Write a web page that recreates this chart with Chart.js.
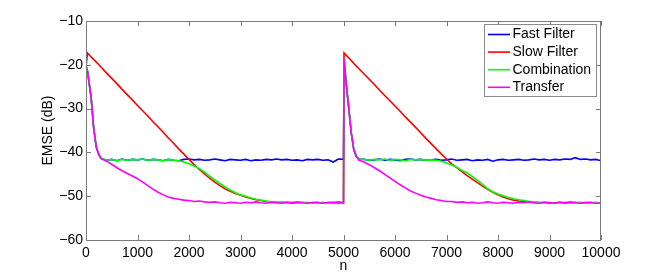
<!DOCTYPE html>
<html>
<head>
<meta charset="utf-8">
<script src="https://cdn.jsdelivr.net/npm/chart.js@4.4.1/dist/chart.umd.min.js"></script>
<style>
  html, body { margin: 0; padding: 0; background: #fff; }
  #wrap { width: 664px; height: 274px; }
</style>
</head>
<body>
<div id="wrap"><canvas id="emseChart"></canvas></div>
<script>
// sample index n
const n = [
  0, 30, 100, 150, 200, 250, 300,
  400, 500, 600, 700, 800, 900, 1000, 1100, 1200, 1300,
  1400, 1500, 1600, 1700, 1800, 1900, 2000, 2100, 2200, 2300,
  2400, 2500, 2600, 2700, 2800, 2900, 3000, 3100, 3200, 3300,
  3400, 3500, 3600, 3700, 3800, 3900, 4000, 4100, 4200, 4300,
  4400, 4500, 4600, 4700, 4800, 4900, 5000,
  5010, 5050, 5100, 5150, 5200, 5250, 5300,
  5400, 5500, 5600, 5700, 5800, 5900, 6000, 6100, 6200, 6300,
  6400, 6500, 6600, 6700, 6800, 6900, 7000, 7100, 7200, 7300,
  7400, 7500, 7600, 7700, 7800, 7900, 8000, 8100, 8200, 8300,
  8400, 8500, 8600, 8700, 8800, 8900, 9000, 9100, 9200, 9300,
  9400, 9500, 9600, 9700, 9800, 9900, 10000
];

// EMSE (dB)
const fastFilter = [
  -20.3, -21.5, -27.5, -34.5, -38.8, -40.5, -41.4,
  -41.8, -41.6, -41.9, -41.5, -41.8, -41.6, -41.7, -41.5, -41.8, -41.6,
  -41.7, -41.9, -41.6, -41.8, -41.9, -41.6, -41.5, -41.7, -41.6, -41.8,
  -41.7, -41.5, -41.7, -41.9, -41.6, -41.7, -41.8, -41.6, -41.9, -41.7,
  -41.8, -41.6, -41.7, -41.5, -41.7, -41.6, -41.8, -41.7, -41.9, -41.6,
  -41.7, -41.6, -41.8, -41.7, -42.2, -41.5, -41.6,
  -18.6, -24.0, -29.6, -35.5, -39.4, -41.0, -41.5,
  -41.6, -41.8, -41.7, -41.5, -41.8, -41.6, -41.7, -41.9, -41.6, -41.5,
  -41.7, -41.6, -41.8, -41.7, -41.6, -41.8, -41.7, -41.5, -41.8, -41.7,
  -41.6, -41.9, -41.7, -41.8, -41.6, -42.0, -41.7, -41.6, -41.8, -41.7,
  -41.6, -41.8, -41.7, -41.5, -41.7, -41.6, -41.8, -41.6, -41.7, -41.5,
  -41.6, -41.2, -41.6, -41.5, -41.7, -41.6, -41.9
];

const slowFilter = [
  -20.5, -17.3, -18.2, -18.8, -19.4, -20.0, -20.6,
  -21.9, -23.1, -24.3, -25.6, -26.8, -28.0, -29.3, -30.5, -31.7, -33.0,
  -34.2, -35.4, -36.7, -37.9, -39.2, -40.4, -41.6, -42.8, -43.9, -44.9,
  -45.9, -46.8, -47.6, -48.3, -48.9, -49.4, -49.8, -50.2, -50.5, -50.8,
  -51.0, -51.2, -51.3, -51.4, -51.5, -51.4, -51.6, -51.5, -51.4, -51.6,
  -51.5, -51.4, -51.6, -51.5, -51.4, -51.6, -51.5,
  -17.3, -17.8, -18.4, -19.0, -19.7, -20.3, -20.9,
  -22.1, -23.3, -24.5, -25.8, -27.0, -28.2, -29.4, -30.6, -31.9, -33.1,
  -34.3, -35.5, -36.8, -38.0, -39.2, -40.4, -41.5, -42.6, -43.5, -44.4,
  -45.3, -46.1, -46.9, -47.7, -48.4, -49.1, -49.7, -50.2, -50.6, -50.9,
  -51.1, -51.2, -51.3, -51.4, -51.5, -51.4, -51.6, -51.5, -51.4, -51.6,
  -51.5, -51.4, -51.6, -51.5, -51.4, -51.6, -51.5
];

const combination = [
  -20.3, -21.5, -27.5, -34.5, -38.8, -40.5, -41.4,
  -41.8, -41.6, -41.9, -41.6, -41.8, -41.6, -41.7, -41.5, -41.8, -41.6,
  -41.7, -41.9, -41.6, -41.8, -41.9, -42.2, -42.6, -43.1, -43.7, -44.5,
  -45.4, -46.3, -47.1, -47.9, -48.6, -49.2, -49.7, -50.0, -50.4, -50.7,
  -50.9, -51.1, -51.3, -51.4, -51.3, -51.5, -51.4, -51.6, -51.5, -51.4,
  -51.6, -51.5, -51.4, -51.6, -51.5, -51.4, -51.5,
  -18.6, -24.0, -29.6, -35.5, -39.3, -40.9, -41.5,
  -41.6, -41.8, -41.6, -41.7, -41.5, -41.8, -41.6, -41.7, -41.9, -41.6,
  -41.7, -41.6, -41.8, -41.7, -41.8, -42.0, -42.4, -42.9, -43.4, -44.1,
  -44.7, -45.5, -46.4, -47.3, -48.3, -49.0, -49.5, -49.9, -50.3, -50.6,
  -50.8, -51.0, -51.2, -51.3, -51.4, -51.5, -51.4, -51.6, -51.5, -51.4,
  -51.6, -51.5, -51.4, -51.6, -51.5, -51.4, -51.6
];

const transfer = [
  -20.3, -21.5, -27.5, -34.5, -38.8, -40.6, -41.5,
  -42.0, -42.7, -43.5, -44.2, -44.8, -45.4, -46.0, -46.8, -47.6, -48.4,
  -49.1, -49.7, -50.2, -50.5, -50.7, -50.9, -51.0, -51.2, -51.1, -51.3,
  -51.4, -51.3, -51.5, -51.6, -51.4, -51.5, -51.6, -51.4, -51.5, -51.3,
  -51.5, -51.6, -51.4, -51.5, -51.6, -51.4, -51.5, -51.3, -51.5, -51.6,
  -51.4, -51.5, -51.6, -51.4, -51.5, -51.3, -51.5,
  -18.5, -24.0, -29.6, -35.5, -39.3, -40.9, -41.8,
  -42.2, -42.8, -43.5, -44.2, -45.0, -45.8, -46.6, -47.4, -48.1, -48.8,
  -49.3, -49.8, -50.2, -50.5, -50.8, -51.0, -51.2, -51.2, -51.4, -51.3,
  -51.5, -51.4, -51.6, -51.5, -51.3, -51.5, -51.6, -51.4, -51.5, -51.6,
  -51.4, -51.5, -51.3, -51.5, -51.6, -51.4, -51.5, -51.6, -51.4, -51.5,
  -51.3, -51.5, -51.6, -51.4, -51.5, -51.6, -51.5
];

const seriesNames = ['Fast Filter', 'Slow Filter', 'Combination', 'Transfer'];
const seriesColors = ['#0000ff', '#ff0000', '#00ff00', '#ff00ff'];
const yTicks = [-60, -50, -40, -30, -20, -10];

const toPoints = vals => vals.map((v, i) => ({ x: n[i], y: v }));
const allSeries = [fastFilter, slowFilter, combination, transfer];

Chart.defaults.font.family = '"Liberation Sans", Arial, Helvetica, sans-serif';
Chart.defaults.color = '#000';

// MATLAB style box, inward ticks and legend drawn inside the axes
const matlabBox = {
  id: 'matlabBox',
  afterDatasetsDraw(chart) {
    const { ctx, chartArea: a, scales: { x, y } } = chart;
    ctx.save();
    ctx.strokeStyle = '#7a7a7a';
    ctx.lineWidth = 1;
    ctx.strokeRect(a.left + 0.5, a.top + 0.5, a.right - a.left - 1, a.bottom - a.top);
    ctx.beginPath();
    x.ticks.forEach(t => {
      const px = Math.round(x.getPixelForValue(t.value)) + 0.5;
      ctx.moveTo(px, a.bottom); ctx.lineTo(px, a.bottom - 5);
      ctx.moveTo(px, a.top); ctx.lineTo(px, a.top + 5);
    });
    y.ticks.forEach(t => {
      const py = Math.round(y.getPixelForValue(t.value)) + 0.5;
      ctx.moveTo(a.left, py); ctx.lineTo(a.left + 5, py);
      ctx.moveTo(a.right, py); ctx.lineTo(a.right - 5, py);
    });
    ctx.stroke();
    ctx.restore();
  },
  afterDraw(chart) {
    const { ctx } = chart;
    ctx.save();
    ctx.fillStyle = '#fff';
    ctx.strokeStyle = '#8a8a8a';
    ctx.lineWidth = 1;
    ctx.fillRect(484.5, 24.5, 112, 72);
    ctx.strokeRect(484.5, 24.5, 112, 72);
    ctx.font = '14px "Liberation Sans", Arial, sans-serif';
    ctx.textBaseline = 'middle';
    chart.data.datasets.forEach((ds, i) => {
      const ly = 34.5 + i * 17.6;
      ctx.strokeStyle = ds.borderColor;
      ctx.lineWidth = 1.6;
      ctx.beginPath();
      ctx.moveTo(488, ly); ctx.lineTo(510, ly);
      ctx.stroke();
      ctx.fillStyle = '#000';
      ctx.fillText(ds.label, 512.5, ly);
    });
    ctx.restore();
  }
};

new Chart(document.getElementById('emseChart'), {
  type: 'line',
  data: {
    datasets: allSeries.map((vals, i) => ({
      label: seriesNames[i],
      data: toPoints(vals),
      borderColor: seriesColors[i],
      backgroundColor: seriesColors[i],
      borderWidth: 1.6,
      pointRadius: 0,
      tension: 0,
      order: allSeries.length - i,
    })),
  },
  options: {
    responsive: true,
    maintainAspectRatio: false,
    animation: false,
    layout: { padding: { top: 21, right: 63, left: 0, bottom: 0 } },
    plugins: { legend: { display: false }, tooltip: { enabled: false } },
    scales: {
      x: {
        type: 'linear',
        min: 0,
        max: 10000,
        grid: { display: false, drawTicks: false },
        border: { display: false },
        ticks: { stepSize: 1000, padding: 5, maxRotation: 0, font: { size: 14 }, callback: v => String(v) },
        title: { display: true, text: 'n', font: { size: 14, lineHeight: 1.1 }, padding: { top: 0, bottom: 0 } },
        afterFit: s => { s.height = 34; },
      },
      y: {
        min: -60,
        max: -10,
        grid: { display: false, drawTicks: false },
        border: { display: false },
        afterBuildTicks: s => { s.ticks = yTicks.map(v => ({ value: v })); },
        ticks: {
          padding: 3,
          font: { size: 14 },
          callback: v => (v < 0 ? '\u2212' : '') + Math.abs(v),
        },
        title: { display: true, text: 'EMSE (dB)', font: { size: 14 }, padding: { top: 40, bottom: 0 } },
        afterFit: s => { s.width = 86; },
      },
    },
  },
  plugins: [matlabBox],
});
</script>
</body>
</html>
